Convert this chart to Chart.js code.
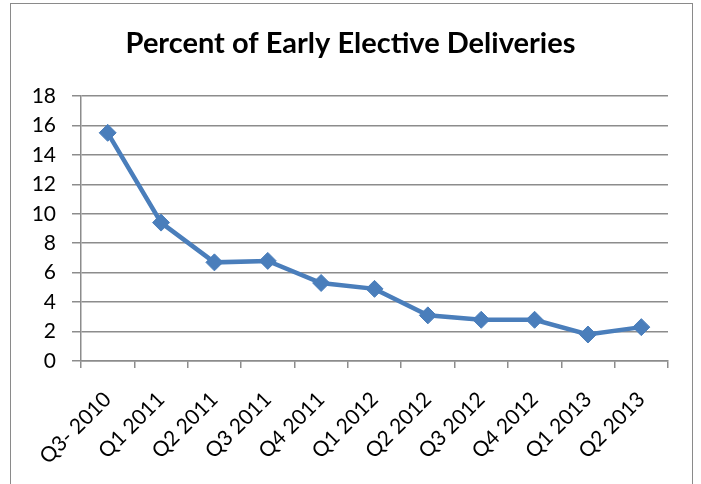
<!DOCTYPE html>
<html lang="en">
<head>
    <meta charset="UTF-8">
    <title>Percent of Early Elective Deliveries</title>
    <script src="https://cdn.jsdelivr.net/npm/chart.js"></script>
    <style>
        body { margin: 0; background: #fff; }
        .wrap { position: relative; width: 701px; height: 484px; overflow: hidden; }
        .frame { position: absolute; left: 10px; top: 3px; width: 683px; height: 500px; border: 1.5px solid #8a8a8a; box-sizing: border-box; }
        canvas { position: absolute; left: 0; top: 0; }
    </style>
</head>
<body>
    <div class="wrap">
        <div class="frame"></div>
        <canvas id="eedChart" width="701" height="484"></canvas>
    </div>

    <script>
        // data
        const quarters = ["Q3- 2010", "Q1 2011", "Q2 2011", "Q3 2011", "Q4 2011", "Q1 2012",
                          "Q2 2012", "Q3 2012", "Q4 2012", "Q1 2013", "Q2 2013"];
        const percentEarly = [15.5, 9.4, 6.7, 6.8, 5.3, 4.9, 3.1, 2.8, 2.8, 1.8, 2.3];
        const yMin = 0, yMax = 18, yStep = 2;

        const gridColor = "#8c8c8c";
        const lineColor = "#4a7ebb";

        Chart.defaults.font.family = "Lato, 'Open Sans', sans-serif";
        Chart.defaults.color = "#000";

        new Chart(document.getElementById("eedChart").getContext("2d"), {
            type: "line",
            data: {
                labels: quarters,
                datasets: [{
                    label: "Percent of Early Elective Deliveries",
                    data: percentEarly,
                    borderColor: lineColor,
                    backgroundColor: lineColor,
                    borderWidth: 4.5,
                    tension: 0,
                    pointStyle: "rectRot",
                    pointRadius: 8.5,
                    pointBorderWidth: 1,
                    pointBackgroundColor: lineColor,
                    pointBorderColor: lineColor
                }]
            },
            options: {
                responsive: false,
                animation: false,
                devicePixelRatio: 1,
                // equal side padding keeps the title centred on the canvas
                layout: { padding: { left: 33, right: 33, top: 0, bottom: 0 } },
                plugins: {
                    legend: { display: false },
                    tooltip: { enabled: false },
                    title: {
                        display: true,
                        text: "Percent of Early Elective Deliveries",
                        font: { size: 29, weight: "bold" },
                        color: "#000",
                        padding: { top: 26.6, bottom: 34.6 }
                    }
                },
                scales: {
                    x: {
                        offset: true,
                        grid: { offset: true, drawOnChartArea: false, color: gridColor, lineWidth: 1.5, tickLength: 7 },
                        border: { color: gridColor, width: 1.5 },
                        ticks: { font: { size: 21 }, maxRotation: 45, minRotation: 45, padding: 19, autoSkip: false },
                        afterFit: s => { s.height = 123; }
                    },
                    y: {
                        min: yMin,
                        max: yMax,
                        grid: { color: gridColor, lineWidth: 1.5, tickLength: 9 },
                        border: { color: gridColor, width: 1.5 },
                        ticks: { stepSize: yStep, font: { size: 21 }, padding: 16 },
                        afterFit: s => { s.width = 48; }
                    }
                }
            }
        });
    </script>
</body>
</html>
